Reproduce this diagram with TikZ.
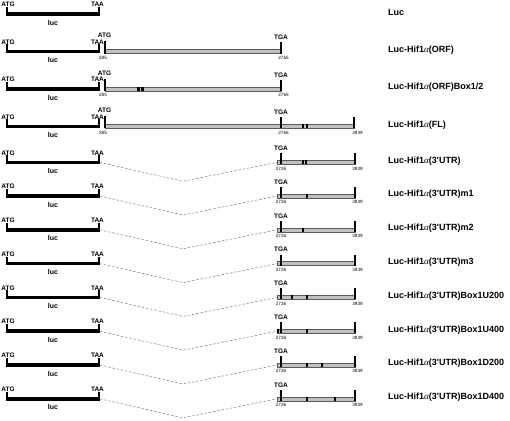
\documentclass[tikz,border=0pt]{standalone}
\usepackage{fontspec}
\setmainfont{Liberation Sans}
\newfontfamily\greekfont{Liberation Serif}
\newcommand\myalpha{{\greekfont\mdseries\itshape α}}
\definecolor{hifgray}{RGB}{192,192,192}
\definecolor{linkgray}{RGB}{110,110,110}
\tikzset{
  lbl/.style={font=\bfseries\fontsize{9}{10}\selectfont, anchor=west, inner sep=0pt},
  codon/.style={font=\bfseries\fontsize{6.5}{7}\selectfont, inner sep=0pt},
  luctext/.style={font=\bfseries\fontsize{7}{8}\selectfont, inner sep=0pt},
  num/.style={font=\fontsize{4.6}{5}\selectfont, inner sep=0pt},
  tickline/.style={line width=1.5pt},
  lucbar/.style={fill=black, draw=none},
  hifbar/.style={fill=hifgray, draw=black!65, line width=0.5pt},
  boxmark/.style={fill=black, draw=none},
  link/.style={draw=linkgray, line width=0.45pt, dash pattern=on 2.5pt off 1.8pt}
}
\newcommand\mylucrow[2]{%
\begin{scope}[yshift=-#2pt]
  \fill[lucbar] (6.3,-1.8) rectangle (99.7,1.8);
  \node[codon] (atg#1) at (8,-9.5) {ATG};
  \node[codon] (taa#1) at (97.5,-9.5) {TAA};
  \coordinate (atgtop#1) at (7,-7);
  \coordinate (atgbot#1) at (7,1.8);
  \coordinate (taatop#1) at (99,-7);
  \coordinate (taabot#1) at (99,1.8);
  \draw[tickline] (atgtop#1) -- (atgbot#1);
  \draw[tickline] (taatop#1) -- (taabot#1);
  \node[luctext] (luc#1) at (53,8.5) {luc};
  \coordinate (lucend#1) at (99.7,0);
\end{scope}}
\newcommand\myutrrow[2]{%
\begin{scope}[yshift=-#2pt]
  \coordinate (utrstart#1) at (277,0);
  \coordinate (dip#1) at (183,19);
  \draw[link] (lucend#1) -- (dip#1) -- (utrstart#1);
  \draw[hifbar] (277,-2) rectangle (355,2);
  \coordinate (tgatop#1) at (281,-9);
  \coordinate (tgabot#1) at (281,2);
  \coordinate (endtop#1) at (355,-9);
  \coordinate (endbot#1) at (355,2);
  \draw[tickline] (tgatop#1) -- (tgabot#1);
  \draw[tickline] (endtop#1) -- (endbot#1);
  \node[codon] (tga#1) at (281,-14) {TGA};
  \node[num] (na#1) at (281,6.3) {2726};
  \node[num] (nb#1) at (357.5,6.3) {3939};
\end{scope}}
\newcommand\mymark[3]{\fill[boxmark] (#2,#1-2) rectangle (#3,#1+2);}
\begin{document}
\begin{tikzpicture}[x=1pt,y=-1pt]
\useasboundingbox (0,0) rectangle (510,420);

% luc parts
\mylucrow{1}{14}
\mylucrow{2}{51.5}
\mylucrow{3}{89}
\mylucrow{4}{126.3}
\mylucrow{5}{162.3}
\mylucrow{6}{196}
\mylucrow{7}{229.8}
\mylucrow{8}{263.6}
\mylucrow{9}{297.4}
\mylucrow{10}{331.2}
\mylucrow{11}{365}
\mylucrow{12}{398.8}

% ORF rows
\foreach \i/\y/\e in {2/51.5/281, 3/89/281, 4/126.3/354}{
  \begin{scope}[yshift=-\y pt]
    \draw[hifbar] (105,-2) rectangle (\e,2);
    \coordinate (orftop\i) at (105,-10.5);
    \coordinate (orfbot\i) at (105,2);
    \draw[tickline] (orftop\i) -- (orfbot\i);
    \node[codon] (atgb\i) at (104.5,-16) {ATG};
    \node[num] (n285\i) at (103,6.3) {285};
    \coordinate (stoptop\i) at (281,-9);
    \coordinate (stopbot\i) at (281,2);
    \draw[tickline] (stoptop\i) -- (stopbot\i);
    \node[codon] (tgab\i) at (281,-14) {TGA};
    \node[num] (n2765\i) at (283.5,6.3) {2765};
  \end{scope}
}
\begin{scope}[yshift=-126.3pt]
  \coordinate (fltop) at (354,-9);
  \coordinate (flbot) at (354,2);
  \draw[tickline] (fltop) -- (flbot);
  \node[num] (n3939fl) at (357.5,6.3) {3939};
\end{scope}

% 3'UTR rows
\myutrrow{5}{162.3}
\myutrrow{6}{196}
\myutrrow{7}{229.8}
\myutrrow{8}{263.6}
\myutrrow{9}{297.4}
\myutrrow{10}{331.2}
\myutrrow{11}{365}
\myutrrow{12}{398.8}

% boxes
\mymark{89}{137.3}{139.8}\mymark{89}{141.3}{144}
\mymark{126.3}{302}{304.2}\mymark{126.3}{305.6}{307.8}
\mymark{162.3}{301.8}{303.8}\mymark{162.3}{305}{307}
\mymark{196}{305.5}{307.5}
\mymark{229.8}{301.8}{303.8}
\mymark{297.4}{290.5}{292.5}\mymark{297.4}{305.5}{307.5}
\mymark{331.2}{277}{279.3}\mymark{331.2}{305.5}{307.5}
\mymark{365}{305.5}{307.5}\mymark{365}{320.5}{322.5}
\mymark{398.8}{305.5}{307.5}\mymark{398.8}{334}{336}

% names
\node[lbl] (name1) at (388,12.5) {Luc};
\node[lbl] (name2) at (388,50) {Luc-Hif1\myalpha(ORF)};
\node[lbl] (name3) at (388,87.5) {Luc-Hif1\myalpha(ORF)Box1/2};
\node[lbl] (name4) at (388,124.8) {Luc-Hif1\myalpha(FL)};
\node[lbl] (name5) at (388,160.8) {Luc-Hif1\myalpha(3\textquotesingle UTR)};
\node[lbl] (name6) at (388,194.5) {Luc-Hif1\myalpha(3\textquotesingle UTR)m1};
\node[lbl] (name7) at (388,228.3) {Luc-Hif1\myalpha(3\textquotesingle UTR)m2};
\node[lbl] (name8) at (388,262.1) {Luc-Hif1\myalpha(3\textquotesingle UTR)m3};
\node[lbl] (name9) at (388,295.9) {Luc-Hif1\myalpha(3\textquotesingle UTR)Box1U200};
\node[lbl] (name10) at (388,329.7) {Luc-Hif1\myalpha(3\textquotesingle UTR)Box1U400};
\node[lbl] (name11) at (388,363.5) {Luc-Hif1\myalpha(3\textquotesingle UTR)Box1D200};
\node[lbl] (name12) at (388,397.3) {Luc-Hif1\myalpha(3\textquotesingle UTR)Box1D400};
\end{tikzpicture}
\end{document}
